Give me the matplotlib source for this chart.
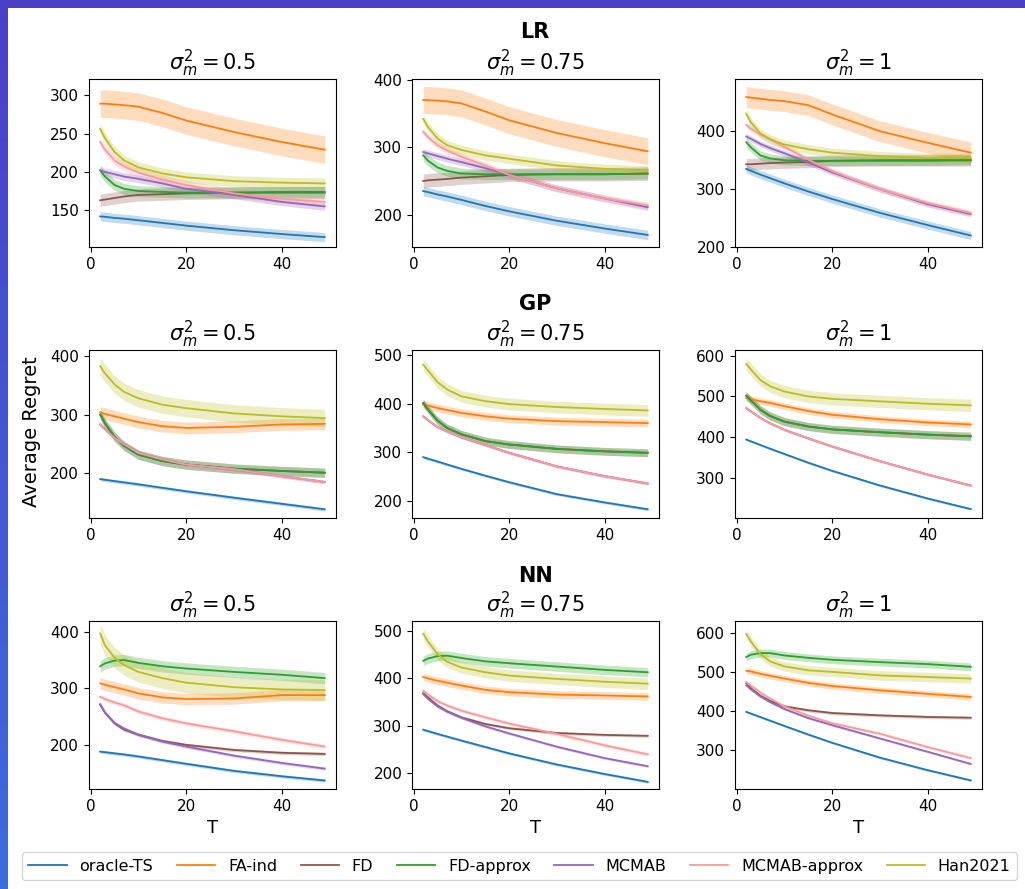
import numpy as np
import matplotlib
matplotlib.use("Agg")
import matplotlib.pyplot as plt
from matplotlib.patches import Rectangle

# горизонт T (общая сетка для всех панелей)
T = [2, 3, 5, 7, 10, 15, 20, 30, 40, 49]

methods = ["oracle-TS", "FA-ind", "FD", "FD-approx", "MCMAB", "MCMAB-approx", "Han2021"]
colors = ["C0", "C1", "C5", "C2", "C4", "#fb9a99", "C8"]

models = ["LR", "GP", "NN"]
sigmas = ["0.5", "0.75", "1"]

# ---------- LR ----------
lr_05 = {
    "oracle-TS":    [142, 141.5, 140, 139, 137, 133.5, 130, 124, 119, 115],
    "FA-ind":       [289, 289, 288, 287, 285, 277, 267, 252, 239, 229],
    "FD":           [163, 164, 166, 168, 170, 171, 172, 173, 173, 173],
    "FD-approx":    [202, 194, 183, 178, 175, 174, 173, 173, 174, 174],
    "MCMAB":        [202, 200, 197, 194, 191, 185, 178, 170, 161, 155],
    "MCMAB-approx": [239, 229, 215, 207, 199, 190, 183, 172, 165, 161],
    "Han2021":      [256, 244, 226, 215, 206, 198, 193, 188, 186, 185],
}
lr_05_band = [6, 18, 8, 7, 5, 6, 7]

lr_075 = {
    "oracle-TS":    [235, 233.5, 230, 227, 222, 213, 205, 191, 179.5, 170],
    "FA-ind":       [370, 370, 369, 368, 365, 353, 340, 321, 306, 294],
    "FD":           [250, 251, 252, 253, 255, 257, 259, 260, 260, 261],
    "FD-approx":    [288, 280, 270, 265, 261, 260, 260, 260, 260, 261],
    "MCMAB":        [293, 291, 287, 283, 278, 269, 259, 239, 224, 211],
    "MCMAB-approx": [323, 315, 303, 295, 286, 273, 259, 239, 224, 214],
    "Han2021":      [342, 330, 313, 303, 296, 288, 283, 273, 268, 266],
}
lr_075_band = [7, 20, 10, 8, 5, 5, 7]

lr_1 = {
    "oracle-TS":    [335, 331.5, 325, 319, 310, 296, 283, 259, 238, 220],
    "FA-ind":       [459, 458, 456, 454, 452, 445, 429, 400, 380, 363],
    "FD":           [343, 343, 344, 345, 346, 347, 349, 350, 350, 350],
    "FD-approx":    [381, 372, 358, 353, 350, 349, 349, 349, 349, 350],
    "MCMAB":        [391, 387, 378, 371, 362, 346, 329, 300, 274, 257],
    "MCMAB-approx": [411, 404, 394, 386, 373, 351, 331, 300, 276, 259],
    "Han2021":      [430, 415, 396, 386, 377, 369, 363, 357, 354, 354],
}
lr_1_band = [7, 18, 10, 8, 5, 5, 8]

# ---------- GP ----------
gp_05 = {
    "oracle-TS":    [189, 187.8, 185.5, 183.3, 180, 174, 168, 157, 146.5, 137],
    "FA-ind":       [304, 301, 297, 293, 287, 280, 277, 279, 283, 284],
    "FD":           [300, 285, 262, 246, 231, 220, 214, 207, 203, 200],
    "FD-approx":    [300, 285, 262, 246, 231, 220, 214, 207, 203, 200],
    "MCMAB":        [283, 275, 260, 249, 234, 223, 214, 206, 194, 184],
    "MCMAB-approx": [283, 275, 260, 249, 234, 223, 214, 206, 194, 184],
    "Han2021":      [383, 371, 352, 339, 328, 317, 311, 302, 297, 294],
}
gp_05_band = [3, 10, 8, 8, 3, 3, 15]

gp_075 = {
    "oracle-TS":    [290, 287, 281, 275, 266, 252, 238.5, 214, 197, 183],
    "FA-ind":       [398, 396, 391, 387, 381, 374, 369, 364, 362, 360],
    "FD":           [401, 388, 365, 350, 337, 323, 316, 307, 302, 299],
    "FD-approx":    [401, 388, 365, 350, 337, 323, 316, 307, 302, 299],
    "MCMAB":        [374, 366, 352, 343, 331, 315, 299, 271, 251, 236],
    "MCMAB-approx": [374, 366, 352, 343, 331, 315, 299, 271, 251, 236],
    "Han2021":      [480, 468, 444, 429, 415, 405, 399, 393, 389, 386],
}
gp_075_band = [3, 8, 8, 8, 3, 3, 12]

gp_1 = {
    "oracle-TS":    [394, 389.5, 380.5, 371.5, 358.5, 337, 317, 281, 249, 223],
    "FA-ind":       [496, 493, 488, 484, 476, 464, 455, 444, 436, 431],
    "FD":           [502, 490, 467, 452, 438, 426, 419, 412, 406, 402],
    "FD-approx":    [502, 490, 467, 452, 438, 426, 419, 412, 406, 402],
    "MCMAB":        [471, 463, 447, 434, 418, 397, 377, 341, 308, 281],
    "MCMAB-approx": [471, 463, 447, 434, 418, 397, 377, 341, 308, 281],
    "Han2021":      [580, 566, 540, 525, 512, 500, 494, 488, 482, 478],
}
gp_1_band = [3, 8, 10, 10, 3, 3, 15]

# ---------- NN ----------
nn_05 = {
    "oracle-TS":    [188, 187, 185, 183, 179.5, 173, 166.5, 154, 144.5, 137],
    "FA-ind":       [309, 306, 302, 298, 291, 284, 281, 282, 288, 288],
    "FD":           [271, 257, 238, 227, 218, 207, 200, 191, 186, 184],
    "FD-approx":    [339, 344, 349, 350, 345, 339, 335, 329, 324, 318],
    "MCMAB":        [272, 257, 239, 229, 218, 206, 197, 181, 168, 158],
    "MCMAB-approx": [285, 281, 275, 270, 259, 247, 238, 224, 209, 197],
    "Han2021":      [397, 376, 354, 341, 329, 318, 310, 302, 298, 297],
}
nn_05_band = [3, 10, 3, 10, 3, 4, 18]

nn_075 = {
    "oracle-TS":    [292, 289, 283, 277.5, 269, 255.5, 242, 218.5, 198.5, 182],
    "FA-ind":       [403, 400, 395, 391, 385, 376, 371, 366, 364, 362],
    "FD":           [369, 360, 343, 331, 318, 304, 295, 285, 281, 279],
    "FD-approx":    [437, 442, 447, 448, 443, 436, 432, 425, 418, 413],
    "MCMAB":        [367, 357, 341, 330, 317, 299, 284, 256, 232, 215],
    "MCMAB-approx": [374, 366, 352, 343, 332, 318, 305, 283, 259, 240],
    "Han2021":      [494, 478, 451, 435, 423, 413, 406, 399, 393, 389],
}
nn_075_band = [3, 8, 3, 10, 3, 4, 12]

nn_1 = {
    "oracle-TS":    [398, 393.5, 384.5, 375.5, 362, 340, 319, 281, 249, 223],
    "FA-ind":       [503, 501, 495, 490, 483, 472, 464, 453, 444, 436],
    "FD":           [471, 458, 439, 426, 412, 402, 395, 389, 385, 383],
    "FD-approx":    [538, 544, 548, 548, 542, 536, 531, 525, 520, 513],
    "MCMAB":        [466, 455, 437, 423, 405, 382, 364, 330, 296, 265],
    "MCMAB-approx": [474, 465, 447, 432, 412, 388, 369, 342, 308, 280],
    "Han2021":      [597, 577, 545, 527, 514, 504, 500, 491, 487, 483],
}
nn_1_band = [3, 8, 4, 10, 3, 4, 12]

panels = [[lr_05, lr_075, lr_1], [gp_05, gp_075, gp_1], [nn_05, nn_075, nn_1]]
bands = [[lr_05_band, lr_075_band, lr_1_band],
         [gp_05_band, gp_075_band, gp_1_band],
         [nn_05_band, nn_075_band, nn_1_band]]
ylims = [[(102, 321), (152, 401), (200, 490)],
         [(122, 411), (165, 510), (201, 614)],
         [(122, 419), (167, 521), (201, 630)]]
yticks = [[[150, 200, 250, 300], [200, 300, 400], [200, 300, 400]],
          [[200, 300, 400], [200, 300, 400, 500], [300, 400, 500, 600]],
          [[200, 300, 400], [200, 300, 400, 500], [300, 400, 500, 600]]]

fig, axes = plt.subplots(3, 3, figsize=(10.25, 8.89), dpi=100)
plt.subplots_adjust(left=0.0868, right=0.958, top=0.911, bottom=0.1125,
                    wspace=0.308, hspace=0.613)

# рамка скриншота (синяя полоса слева и сверху)
grad_ax = fig.add_axes([0, 0, 8 / 1025, 1])
grad = np.linspace(0, 1, 256).reshape(-1, 1)
cmap = matplotlib.colors.LinearSegmentedColormap.from_list("frame", ["#4a40c6", "#3d6cdb"])
grad_ax.imshow(grad, aspect="auto", cmap=cmap)
grad_ax.axis("off")
fig.patches.append(Rectangle((0, 1 - 8 / 889), 1, 8 / 889, transform=fig.transFigure,
                             facecolor="#4a40c6", edgecolor="none", zorder=0))

x = np.array(T)
for i in range(3):
    for j in range(3):
        ax = axes[i, j]
        data = panels[i][j]
        for k, m in enumerate(methods):
            y = np.array(data[m], dtype=float)
            ax.fill_between(x, y - bands[i][j][k], y + bands[i][j][k],
                            color=colors[k], alpha=0.27, linewidth=0)
            ax.plot(x, y, color=colors[k], linewidth=1.3, label=m)
        ax.set_ylim(*ylims[i][j])
        ax.set_yticks(yticks[i][j])
        ax.set_xticks([0, 20, 40])
        ax.tick_params(labelsize=11)
        ax.set_title(r"$\sigma_m^2 = %s$" % sigmas[j], fontsize=15)
        if i == 2:
            ax.set_xlabel("T", fontsize=13)

fig.text(0.0305, 0.514, "Average Regret", rotation=90, fontsize=14,
         ha="center", va="center")

row_title_y = [1 - 32 / 889, 1 - 304 / 889, 1 - 576 / 889]
for i, name in enumerate(models):
    fig.text(535 / 1025, row_title_y[i], name, fontsize=15, fontweight="bold",
             ha="center", va="center")

handles, labels = axes[0, 0].get_legend_handles_labels()
fig.legend(handles, labels, loc="lower left", ncol=7, mode="expand",
           bbox_to_anchor=(22 / 1025, 0.010, 995 / 1025, 0.03), fontsize=11.5,
           handlelength=2.4, borderaxespad=0)

plt.savefig("out.png", dpi=100)
